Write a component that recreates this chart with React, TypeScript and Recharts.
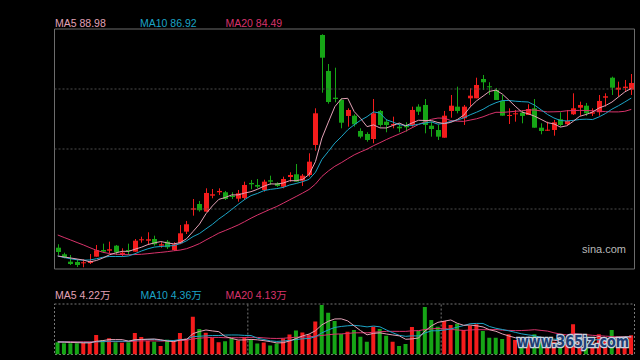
import { Bar, Cell, ComposedChart, Line, ReferenceArea, ReferenceLine, XAxis, YAxis } from "recharts";

// daily candles, price in yuan (90 trading days)
const opens = [54.90, 53.49, 51.91, 51.84, 51.56, 51.63, 52.98, 54.41, 54.26, 55.33, 53.55, 54.41, 54.05, 56.49, 56.40, 56.76, 55.33, 56.19, 54.41, 55.84, 58.33, 63.03, 64.25, 62.61, 66.03, 66.76, 66.76, 66.03, 65.39, 65.54, 68.75, 68.32, 67.25, 69.33, 68.68, 67.96, 70.03, 70.61, 69.24, 70.46, 76.88, 100.42, 92.72, 87.00, 86.51, 83.09, 83.15, 79.88, 79.23, 78.16, 84.16, 81.87, 81.10, 80.80, 81.01, 81.16, 85.08, 85.44, 81.01, 80.09, 78.44, 84.16, 85.08, 82.59, 86.87, 86.87, 91.00, 89.44, 88.65, 86.30, 83.09, 83.45, 83.79, 83.30, 84.73, 80.58, 80.03, 80.09, 82.38, 81.31, 83.45, 84.86, 85.29, 83.58, 83.88, 87.00, 91.28, 88.71, 89.08, 88.71];
const closes = [53.98, 52.85, 51.41, 51.20, 51.78, 52.06, 54.35, 54.05, 54.56, 53.92, 53.83, 54.20, 56.40, 56.70, 56.70, 55.63, 55.63, 54.99, 55.63, 57.98, 59.91, 63.33, 62.91, 66.61, 66.33, 67.04, 65.32, 65.75, 66.54, 68.32, 68.47, 67.96, 69.03, 69.03, 68.11, 69.60, 70.46, 69.03, 70.31, 73.31, 83.66, 95.56, 86.08, 86.72, 81.65, 84.37, 81.31, 78.66, 77.95, 83.66, 81.16, 81.16, 81.37, 80.45, 80.67, 84.37, 84.01, 81.16, 80.30, 78.66, 83.15, 85.29, 84.16, 85.08, 87.43, 89.72, 90.30, 89.23, 86.51, 83.15, 83.30, 83.66, 83.09, 84.58, 80.58, 79.88, 80.15, 81.74, 81.16, 82.02, 84.73, 85.44, 83.66, 83.88, 86.30, 87.30, 89.14, 89.14, 89.36, 90.15];
const highs = [55.63, 53.83, 53.34, 52.27, 52.42, 53.55, 55.48, 55.76, 56.19, 55.48, 54.77, 55.76, 56.76, 57.26, 58.20, 57.47, 56.06, 56.55, 56.06, 59.76, 60.62, 65.32, 64.90, 67.61, 67.46, 67.61, 67.04, 66.76, 67.25, 69.03, 69.39, 69.60, 69.45, 70.31, 68.90, 70.10, 71.04, 72.81, 70.67, 75.10, 84.73, 100.57, 94.21, 93.42, 86.87, 84.73, 83.45, 80.45, 79.60, 86.72, 84.37, 82.44, 82.94, 81.52, 81.74, 85.08, 85.59, 86.72, 81.87, 81.16, 84.16, 87.58, 89.36, 85.44, 89.01, 91.28, 91.86, 90.30, 89.08, 87.58, 84.73, 84.37, 84.31, 85.59, 86.72, 81.52, 81.87, 82.23, 83.88, 84.37, 87.94, 86.15, 85.87, 84.73, 87.58, 87.94, 91.50, 90.43, 90.79, 92.07];
const lows = [53.34, 52.63, 51.20, 50.77, 50.71, 51.41, 52.98, 53.83, 53.70, 53.34, 53.13, 53.34, 54.05, 55.97, 55.69, 55.33, 54.90, 54.62, 54.20, 55.63, 57.83, 61.75, 62.61, 62.61, 65.47, 66.18, 65.11, 65.32, 64.75, 65.11, 67.40, 67.61, 66.89, 68.32, 67.89, 67.61, 69.03, 69.03, 68.11, 70.10, 75.66, 88.07, 85.72, 86.02, 80.45, 80.80, 80.80, 78.31, 77.59, 77.24, 80.80, 79.60, 80.45, 79.60, 79.73, 80.80, 83.30, 79.38, 78.66, 77.95, 78.44, 82.72, 83.66, 81.16, 85.08, 86.87, 88.65, 87.58, 86.51, 83.15, 81.37, 81.87, 81.52, 83.30, 80.58, 79.17, 79.88, 78.87, 80.80, 81.16, 83.30, 83.15, 83.09, 83.09, 83.15, 85.08, 87.58, 87.22, 88.44, 87.58];

// moving averages of the close
const ma5 = [53.13, 52.91, 52.70, 52.48, 52.25, 51.86, 52.16, 52.68, 53.36, 53.79, 54.13, 54.11, 54.58, 55.01, 55.57, 55.93, 56.21, 55.93, 55.72, 55.97, 56.83, 58.37, 59.95, 62.16, 63.83, 65.24, 65.64, 66.20, 66.20, 66.59, 66.89, 67.40, 68.06, 68.56, 68.51, 68.75, 69.24, 69.24, 69.50, 70.55, 73.35, 78.38, 81.78, 85.08, 86.75, 86.87, 84.03, 82.55, 80.80, 81.18, 80.54, 80.52, 81.05, 81.57, 80.97, 81.61, 82.17, 82.12, 82.10, 81.69, 81.46, 81.72, 82.32, 83.26, 85.01, 86.34, 87.34, 88.35, 88.63, 87.77, 86.49, 85.16, 83.94, 83.56, 83.04, 82.36, 81.65, 81.40, 80.71, 80.99, 81.95, 83.02, 83.41, 83.94, 84.80, 85.31, 86.06, 87.15, 88.24, 88.98];
const ma10 = [53.13, 52.80, 52.53, 52.31, 52.23, 52.27, 52.53, 52.85, 53.02, 53.02, 53.00, 53.13, 53.62, 54.20, 54.67, 55.03, 55.16, 55.27, 55.35, 55.76, 56.38, 57.28, 57.94, 58.93, 59.89, 61.04, 62.01, 63.08, 64.17, 65.20, 66.05, 66.52, 67.12, 67.38, 67.55, 67.81, 68.32, 68.64, 69.03, 69.52, 71.04, 73.80, 75.51, 77.29, 78.63, 80.11, 81.20, 82.17, 82.94, 83.96, 83.71, 82.27, 81.80, 81.18, 81.07, 81.07, 81.33, 81.59, 81.82, 81.33, 81.52, 81.93, 82.21, 82.68, 83.34, 83.90, 84.52, 85.33, 85.93, 86.38, 86.40, 86.25, 86.15, 86.08, 85.40, 84.41, 83.41, 82.66, 82.12, 82.02, 82.14, 82.34, 82.40, 82.32, 82.89, 83.62, 84.54, 85.27, 86.08, 86.92];
const ma20 = [57.62, 57.08, 56.55, 56.01, 55.48, 54.90, 54.35, 53.92, 53.66, 53.51, 53.43, 53.40, 53.43, 53.49, 53.62, 53.77, 53.90, 54.05, 54.24, 54.39, 54.69, 55.20, 55.78, 56.55, 57.28, 58.03, 58.58, 59.16, 59.76, 60.47, 61.22, 61.90, 62.52, 63.14, 63.72, 64.43, 65.15, 65.86, 66.59, 67.36, 68.53, 70.16, 71.32, 72.32, 73.09, 73.95, 74.76, 75.40, 75.98, 76.73, 77.37, 78.04, 78.66, 79.23, 79.85, 80.58, 81.27, 81.87, 82.38, 82.64, 82.62, 82.10, 81.99, 81.93, 82.21, 82.49, 82.91, 83.45, 83.88, 83.86, 83.96, 84.09, 84.18, 84.37, 84.37, 84.16, 83.96, 83.98, 84.03, 84.20, 84.26, 84.28, 84.26, 84.20, 84.13, 84.01, 83.96, 83.96, 84.09, 84.49];

// volume in 万 shares
const volumes = [2.93, 2.69, 2.69, 2.69, 2.93, 2.93, 4.68, 3.48, 3.89, 2.93, 2.83, 2.93, 5.16, 4.20, 3.24, 3.07, 2.04, 3.55, 3.48, 5.16, 3.84, 9.07, 6.12, 5.23, 4.03, 2.93, 3.17, 3.89, 3.36, 4.13, 3.60, 2.64, 2.88, 2.16, 2.64, 3.84, 4.80, 5.76, 5.28, 4.80, 7.92, 11.88, 10.03, 8.04, 4.92, 5.47, 5.88, 4.27, 3.07, 6.67, 6.12, 4.51, 3.07, 2.04, 2.52, 6.60, 5.64, 11.40, 8.28, 6.67, 8.04, 7.08, 7.39, 5.88, 6.91, 7.25, 5.64, 4.03, 4.03, 3.72, 4.85, 3.48, 3.72, 3.48, 4.85, 3.07, 2.69, 3.07, 2.28, 2.45, 7.25, 3.89, 2.69, 3.07, 4.85, 3.48, 5.88, 3.48, 3.60, 4.60];
const volMa5 = [3.00, 2.95, 2.90, 2.85, 2.79, 2.79, 3.18, 3.34, 3.58, 3.58, 3.56, 3.21, 3.55, 3.61, 3.67, 3.72, 3.54, 3.22, 3.08, 3.46, 3.61, 5.02, 5.53, 5.88, 5.66, 5.48, 4.30, 3.85, 3.48, 3.50, 3.63, 3.52, 3.32, 3.08, 2.78, 2.83, 3.26, 3.84, 4.46, 4.90, 5.71, 7.13, 7.98, 8.53, 8.56, 8.07, 6.87, 5.72, 4.72, 5.07, 5.20, 4.93, 4.69, 4.48, 3.65, 3.75, 3.97, 5.64, 6.89, 7.72, 8.01, 8.29, 7.49, 7.01, 7.06, 6.90, 6.61, 5.94, 5.57, 4.93, 4.45, 4.02, 3.96, 3.85, 4.08, 3.72, 3.56, 3.43, 3.19, 2.71, 3.55, 3.79, 3.71, 3.87, 4.35, 3.60, 3.99, 4.15, 4.26, 4.22];
const volMa10 = [3.00, 3.00, 2.95, 2.95, 2.90, 2.90, 3.07, 3.12, 3.22, 3.19, 3.18, 3.20, 3.45, 3.60, 3.63, 3.64, 3.38, 3.39, 3.35, 3.57, 3.67, 4.28, 4.38, 4.48, 4.56, 4.55, 4.66, 4.69, 4.68, 4.58, 4.56, 3.91, 3.59, 3.28, 3.14, 3.23, 3.39, 3.58, 3.77, 3.84, 4.27, 5.20, 5.91, 6.50, 6.73, 6.89, 7.00, 6.85, 6.63, 6.82, 6.64, 5.90, 5.21, 4.60, 4.36, 4.48, 4.45, 5.17, 5.69, 5.69, 5.88, 6.13, 6.57, 6.95, 7.39, 7.46, 7.45, 6.72, 6.29, 6.00, 5.68, 5.32, 4.95, 4.71, 4.51, 4.09, 3.79, 3.70, 3.52, 3.40, 3.64, 3.68, 3.57, 3.53, 3.53, 3.58, 3.89, 4.05, 4.20, 4.36];
const volMa20 = [3.10, 3.10, 3.10, 3.05, 3.05, 3.05, 3.05, 3.10, 3.10, 3.10, 3.09, 3.10, 3.20, 3.28, 3.27, 3.27, 3.23, 3.26, 3.29, 3.38, 3.43, 3.74, 3.92, 4.04, 4.10, 4.10, 4.02, 4.04, 4.02, 4.08, 4.12, 4.10, 3.99, 3.88, 3.85, 3.89, 4.03, 4.14, 4.23, 4.21, 4.42, 4.56, 4.75, 4.89, 4.94, 5.06, 5.20, 5.22, 5.20, 5.33, 5.46, 5.55, 5.56, 5.55, 5.55, 5.69, 5.73, 6.01, 6.16, 6.26, 6.26, 6.02, 5.89, 5.78, 5.88, 5.97, 5.95, 5.95, 5.99, 5.85, 5.78, 5.73, 5.76, 5.83, 5.95, 5.78, 5.62, 5.21, 4.91, 4.70, 5.00, 4.90, 4.75, 4.60, 4.50, 4.40, 4.30, 4.22, 4.17, 4.13];

const PRICE_MIN = 50.34;
const PRICE_MAX = 101.7;
const PRICE_GRID = [63.18, 76.02, 88.86];
const VOL_MAX = 12.12;
const MONTH_STARTS = [30, 60];

const RED = "#f41c1c";
const GREEN = "#16a516";
const C_MA5 = "#e3a2b6";
const C_MA10 = "#1ca4c6";
const C_MA20 = "#d8336b";
const FONT = "'Liberation Sans', Arial, 'Noto Sans CJK SC', sans-serif";

const rows = closes.map((close, i) => ({
  idx: i,
  open: opens[i],
  close,
  high: highs[i],
  low: lows[i],
  ma5: ma5[i],
  ma10: ma10[i],
  ma20: ma20[i],
  vol: volumes[i],
  vma5: volMa5[i],
  vma10: volMa10[i],
  vma20: volMa20[i],
}));

function Candle(props: any) {
  const { x, y, width, height, payload } = props;
  const top = Math.min(y, y + height);
  const h = Math.abs(height);
  const { open, close, high, low } = payload;
  const k = high > low ? h / (high - low) : 0;
  const bodyTop = top + (high - Math.max(open, close)) * k;
  const bodyH = Math.max(1, Math.abs(open - close) * k);
  const color = close >= open ? RED : GREEN;
  const cx = Math.floor(x + width / 2) + 0.5;
  return (
    <g>
      <line x1={cx} x2={cx} y1={top} y2={top + h} stroke={color} strokeWidth={1} />
      <rect x={cx - 2.5} y={bodyTop} width={5} height={bodyH} fill={color} />
    </g>
  );
}

const lineProps = (color: string) => ({
  type: "linear" as const,
  stroke: color,
  strokeWidth: 1,
  dot: false,
  activeDot: false,
  isAnimationActive: false,
});

export default function App() {
  return (
    <div style={{ position: "absolute", left: 0, top: 0, width: 640, height: 360, background: "#000", overflow: "hidden" }}>
      <div style={{ position: "absolute", left: 0, top: 0 }}>
        <ComposedChart width={640} height={275} data={rows} margin={{ top: 29, right: 5.5, bottom: 6, left: 54.5 }}>
          <XAxis dataKey="idx" type="category" hide />
          <YAxis type="number" domain={[PRICE_MIN, PRICE_MAX]} allowDataOverflow hide />
          {PRICE_GRID.map((v) => (
            <ReferenceLine key={v} y={v} stroke="#4c4c4c" strokeDasharray="2 2" />
          ))}
          <ReferenceArea y1={PRICE_MIN} y2={PRICE_MAX} fill="none" stroke="#6c6c6c" ifOverflow="visible" />
          <Bar dataKey={(d: any) => [d.low, d.high]} barSize={5} shape={(p: any) => <Candle {...p} />} isAnimationActive={false} />
          <Line dataKey="ma20" {...lineProps(C_MA20)} />
          <Line dataKey="ma10" {...lineProps(C_MA10)} />
          <Line dataKey="ma5" {...lineProps(C_MA5)} />
        </ComposedChart>
      </div>
      <div style={{ position: "absolute", left: 0, top: 290 }}>
        <ComposedChart width={640} height={70} data={rows} margin={{ top: 14, right: 5.5, bottom: 5.5, left: 54.5 }}>
          <XAxis dataKey="idx" type="category" hide />
          <YAxis type="number" domain={[0, VOL_MAX]} allowDataOverflow hide />
          <ReferenceArea y1={0} y2={VOL_MAX} fill="none" stroke="#777" strokeDasharray="2 2" ifOverflow="visible" />
          {MONTH_STARTS.map((m) => (
            <ReferenceLine key={m} x={m} position="start" stroke="#777" strokeDasharray="2 2" />
          ))}
          <Bar dataKey="vol" barSize={4} isAnimationActive={false}>
            {rows.map((r) => (
              <Cell key={r.idx} fill={r.close >= r.open ? RED : GREEN} />
            ))}
          </Bar>
          <Line dataKey="vma20" {...lineProps(C_MA20)} />
          <Line dataKey="vma10" {...lineProps(C_MA10)} />
          <Line dataKey="vma5" {...lineProps(C_MA5)} />
        </ComposedChart>
      </div>
      <svg width={640} height={360} style={{ position: "absolute", left: 0, top: 0, pointerEvents: "none" }} fontFamily={FONT}>
        <text x={55} y={27} fontSize={10.5} fill={C_MA5}>MA5 88.98</text>
        <text x={140} y={27} fontSize={10.5} fill={C_MA10}>MA10 86.92</text>
        <text x={225.5} y={27} fontSize={10.5} fill={C_MA20}>MA20 84.49</text>
        <text x={55} y={299} fontSize={10.5} fill={C_MA5}>MA5 4.22万</text>
        <text x={140.5} y={299} fontSize={10.5} fill={C_MA10}>MA10 4.36万</text>
        <text x={225.5} y={299} fontSize={10.5} fill={C_MA20}>MA20 4.13万</text>
        <text x={582} y={253} fontSize={11} fill="#b8b8b8">sina.com</text>
        <text x={517} y={347} fontSize={15.5} fill="#1d3e74" stroke="#c9d3df" strokeWidth={2.5} paintOrder="stroke" fontFamily="'DejaVu Sans', sans-serif" fontWeight="bold" textLength={112} lengthAdjust="spacingAndGlyphs">www.365jz.com</text>
      </svg>
    </div>
  );
}
